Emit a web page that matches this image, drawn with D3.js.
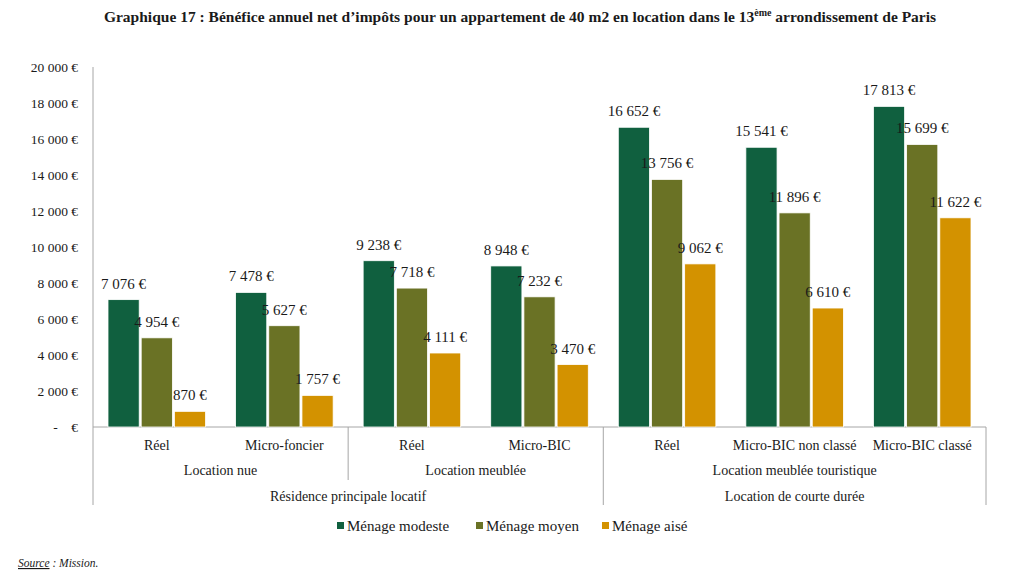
<!DOCTYPE html>
<html><head><meta charset="utf-8">
<script src="https://cdn.jsdelivr.net/npm/d3@7"></script>
<style>
html,body{margin:0;padding:0;background:#fff;}
svg text{font-family:"Liberation Serif","Times New Roman",serif;fill:#1a1a1a;}
</style></head>
<body>
<svg id="chart" width="1024" height="581"></svg>
<script>
const categories = ["Réel","Micro-foncier","Réel","Micro-BIC","Réel","Micro-BIC non classé","Micro-BIC classé"];
const level2 = [
  {label:"Location nue", from:0, to:2},
  {label:"Location meublée", from:2, to:4},
  {label:"Location meublée touristique", from:4, to:7}
];
const level3 = [
  {label:"Résidence principale locatif", from:0, to:4},
  {label:"Location de courte durée", from:4, to:7}
];
const seriesNames = ["Ménage modeste","Ménage moyen","Ménage aisé"];
const modeste = [7076, 7478, 9238, 8948, 16652, 15541, 17813];
const moyen   = [4954, 5627, 7718, 7232, 13756, 11896, 15699];
const aise    = [870, 1757, 4111, 3470, 9062, 6610, 11622];
const yTicks  = [0,2000,4000,6000,8000,10000,12000,14000,16000,18000,20000];
const colors  = ["#10603f","#6a7225","#d39200"];

(function(){
const series = [modeste, moyen, aise];
const svg = d3.select("#chart");
const pL = 93, pR = 986, pT = 67, pB = 427;

const x0 = d3.scaleBand().domain(d3.range(categories.length)).range([pL, pR]).padding(0);
const x1 = d3.scaleBand().domain(d3.range(3)).range([15, x0.bandwidth()-15]).paddingInner(0.06);
const y = d3.scaleLinear().domain([0, 20000]).range([pB, pT]);

const fmt = v => v === 0 ? "-\u00a0\u00a0\u00a0\u00a0€" : d3.format(",")(v).replace(/,/g, "\u00a0") + " €";

// Title
svg.append("text").attr("x", 520).attr("y", 22).attr("text-anchor","middle")
  .attr("font-weight","bold").attr("font-size", 15.5)
  .call(t => {
    t.append("tspan").text("Graphique 17 : Bénéfice annuel net d\u2019impôts pour un appartement de 40 m2 en location dans le 13");
    t.append("tspan").attr("font-size", 10).attr("dy", -6).text("ème");
    t.append("tspan").attr("dy", 6).text(" arrondissement de Paris");
  });

// Y axis
const yAxis = d3.axisLeft(y).tickValues(yTicks).tickSize(0).tickPadding(15).tickFormat(fmt);
const gy = svg.append("g").attr("transform", `translate(${pL},0)`).call(yAxis);
gy.select(".domain").remove();
gy.selectAll("text").attr("font-size", 13.5).attr("font-family", "Liberation Serif").attr("fill","#1a1a1a");

// axis lines
const lineColor = "#a6a6a6";
svg.append("line").attr("x1", pL).attr("x2", pL).attr("y1", pT).attr("y2", 505).attr("stroke", lineColor);
svg.append("line").attr("x1", pL).attr("x2", pR).attr("y1", pB).attr("y2", pB).attr("stroke", lineColor);
svg.append("line").attr("x1", x0(2)).attr("x2", x0(2)).attr("y1", pB).attr("y2", 480).attr("stroke", lineColor);
svg.append("line").attr("x1", x0(4)).attr("x2", x0(4)).attr("y1", pB).attr("y2", 505).attr("stroke", lineColor);
svg.append("line").attr("x1", pR).attr("x2", pR).attr("y1", pB).attr("y2", 505).attr("stroke", lineColor);

// Bars
const groups = svg.append("g").selectAll("g").data(series).join("g").attr("fill", (d,i)=>colors[i]);
groups.each(function(vals, si){
  const g = d3.select(this);
  g.selectAll("rect").data(vals).join("rect")
    .attr("x", (d,ci)=> x0(ci) + x1(si))
    .attr("width", x1.bandwidth())
    .attr("y", d => y(d))
    .attr("height", d => y(0) - y(d))
    .attr("stroke", "#ffffff").attr("stroke-width", 0.8);
  g.selectAll("text").data(vals).join("text")
    .attr("x", (d,ci)=> x0(ci) + x1(si) + x1.bandwidth()/2)
    .attr("y", d => y(d) - 11)
    .attr("text-anchor","middle").attr("font-size", 15).attr("fill","#1a1a1a")
    .text(d => fmt(d));
});

// Category labels
svg.append("g").selectAll("text").data(categories).join("text")
  .attr("x", (d,i)=> x0(i) + x0.bandwidth()/2).attr("y", 450)
  .attr("text-anchor","middle").attr("font-size", 14).text(d=>d);
svg.append("g").selectAll("text").data(level2).join("text")
  .attr("x", d => (x0(d.from) + x0(d.to-1) + x0.bandwidth())/2).attr("y", 475)
  .attr("text-anchor","middle").attr("font-size", 14).text(d=>d.label);
svg.append("g").selectAll("text").data(level3).join("text")
  .attr("x", d => (x0(d.from) + x0(d.to-1) + x0.bandwidth())/2).attr("y", 501)
  .attr("text-anchor","middle").attr("font-size", 14).text(d=>d.label);

// Legend
const legX = [337, 476, 602];
const leg = svg.append("g").selectAll("g").data(seriesNames).join("g")
  .attr("transform", (d,i)=>`translate(${legX[i]},526)`);
leg.append("rect").attr("x",0).attr("y",-4).attr("width",7).attr("height",7).attr("fill",(d,i)=>colors[i]);
leg.append("text").attr("x",10).attr("y",5).attr("font-size",15).text(d=>d);

// Source
svg.append("text").attr("x", 18).attr("y", 567).attr("font-size", 11.5).attr("font-style","italic")
  .call(t => {
    t.append("tspan").attr("text-decoration","underline").text("Source");
    t.append("tspan").text(" : Mission.");
  });
})();
</script>
</body></html>
